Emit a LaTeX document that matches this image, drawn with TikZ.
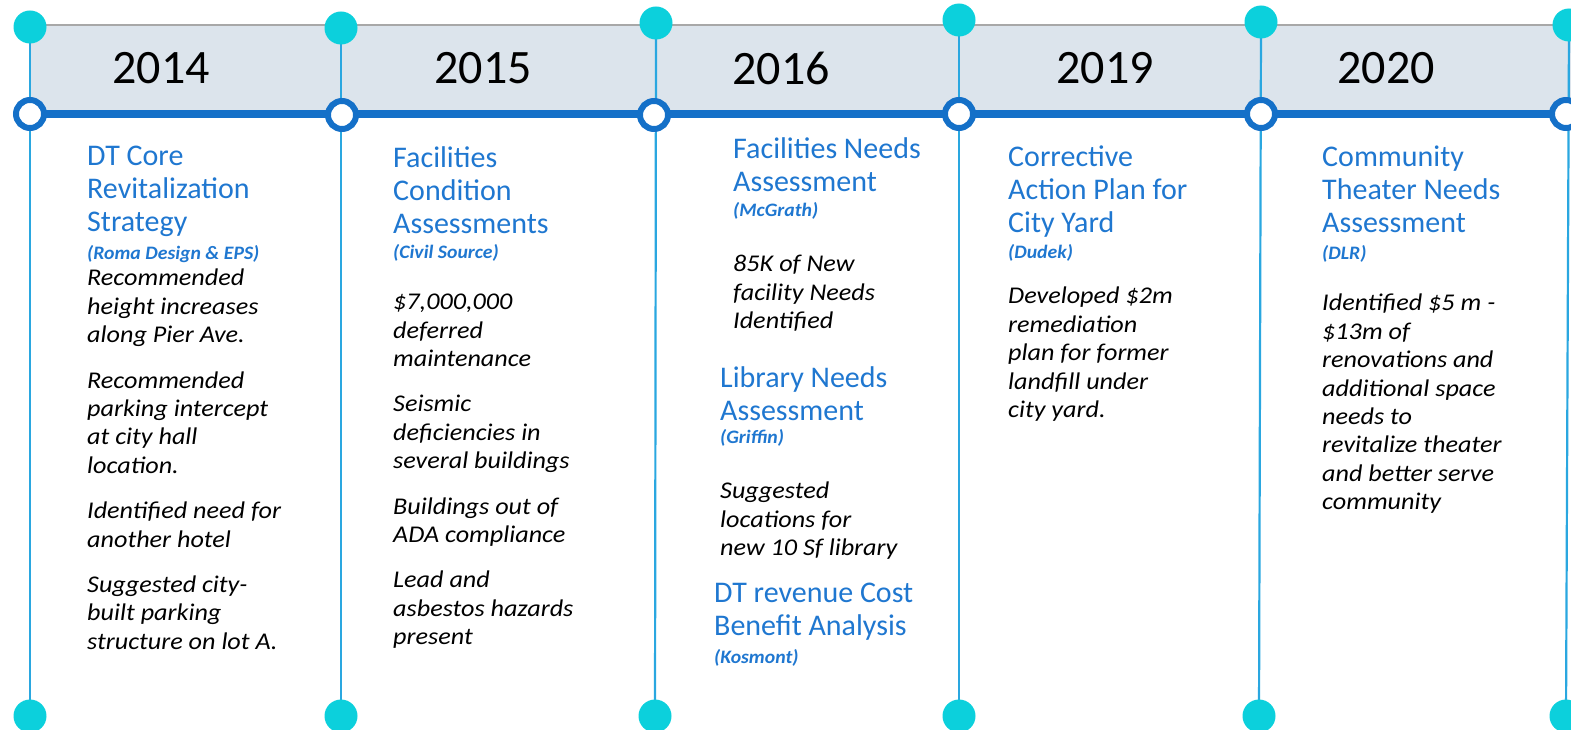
\documentclass[tikz,border=0pt]{standalone}
\usepackage{fontspec}
\setmainfont{Carlito}
\newfontfamily\bodyfont[FakeStretch=1.09]{Carlito}
\newfontfamily\subfont[FakeStretch=1.04]{Carlito}
\definecolor{bandfill}{HTML}{DCE4EC}
\definecolor{bandedge}{HTML}{A8A8A8}
\definecolor{mainblue}{HTML}{1470C8}
\definecolor{vblue}{HTML}{2AA7E0}
\definecolor{dotcyan}{HTML}{0CD0DC}
\definecolor{titleblue}{HTML}{1F77D0}
\tikzset{
  vline/.style={draw=vblue, line width=2.2pt},
  topdot/.style={circle, fill=dotcyan, minimum size=33pt, inner sep=0pt},
  hollow/.style={circle, draw=mainblue, line width=6pt, fill=white, minimum size=28pt, inner sep=0pt},
  yearlbl/.style={font=\fontsize{48}{52}\selectfont, text=black, inner sep=0pt},
  ttl/.style={font=\fontsize{30}{33}\selectfont, text=titleblue, align=left, anchor=north west, inner sep=0pt},
  sub/.style={font={\subfont\bfseries\itshape\fontsize{19}{22}\selectfont}, text=titleblue, align=left, anchor=north west, inner sep=0pt},
  body/.style={font={\bodyfont\itshape\fontsize{24}{28.4}\selectfont}, text=black, align=left, anchor=north west, inner sep=0pt},
}
\begin{document}
\begin{tikzpicture}[x=1pt,y=-1pt]
\useasboundingbox (0,0) rectangle (1571,730);
% band
\fill[bandfill] (30,25) rectangle (1571,113);
\draw[bandedge, line width=1.5pt] (30,25) -- (1571,25);
% dot coordinates
\coordinate (t1) at (30,27);
\coordinate (t2) at (341,28);
\coordinate (t3) at (656,23);
\coordinate (t4) at (959,20);
\coordinate (t5) at (1261,22);
\coordinate (t6) at (1569,25);
\coordinate (b1) at (30,716);
\coordinate (b2) at (341,716);
\coordinate (b3) at (655,716);
\coordinate (b4) at (959,716);
\coordinate (b5) at (1259,716);
\coordinate (b6) at (1566,716);
% vertical lines
\foreach \i in {1,...,6} { \draw[vline] (t\i) -- (b\i); }
% main line
\coordinate (ls) at (30,114);
\coordinate (le) at (1571,114);
\draw[mainblue, line width=8pt] (ls) -- (le);
% hollow circles
\node[hollow] (h1) at (30,114) {};
\node[hollow] (h2) at (342,115) {};
\node[hollow] (h3) at (654,115) {};
\node[hollow] (h4) at (959,114) {};
\node[hollow] (h5) at (1261,114) {};
\node[hollow] (h6) at (1566,114) {};
% dots
\foreach \i in {1,...,6} {
  \node[topdot] (td\i) at (t\i) {};
  \node[topdot] (bd\i) at (b\i) {};
}
% years
\node[yearlbl] (y1) at (161,68) {2014};
\node[yearlbl] (y2) at (483,68) {2015};
\node[yearlbl] (y3) at (781,68) {2016};
\node[yearlbl] (y4) at (1105,68) {2019};
\node[yearlbl] (y5) at (1386,68) {2020};
% column 1
\node[ttl] (c1t) at (87,146) {DT Core\\Revitalization\\Strategy};
\node[sub] (c1s) at (87,245) {(Roma Design \& EPS)};
\node[body] (c1b) at (87,269) {Recommended\\height increases\\along Pier Ave.\\[17pt]Recommended\\parking intercept\\at city hall\\location.\\[17pt]Identified need for\\another hotel\\[17pt]Suggested city-\\built parking\\structure on lot A.};
% column 2
\node[ttl] (c2t) at (393,146) {Facilities\\Condition\\Assessments};
\node[sub] (c2s) at (393,244) {(Civil Source)};
\node[body] (c2b) at (393,294) {\$7,000,000\\deferred\\maintenance\\[17pt]Seismic\\deficiencies in\\several buildings\\[17pt]Buildings out of\\ADA compliance\\[17pt]Lead and\\asbestos hazards\\present};
% column 3
\node[ttl] (c3t) at (733,137) {Facilities Needs\\Assessment};
\node[sub] (c3s) at (733,202) {(McGrath)};
\node[body] (c3b) at (733,255) {85K of New\\facility Needs\\Identified};
\node[ttl] (c3t2) at (720,366) {Library Needs\\Assessment};
\node[sub] (c3s2) at (720,429) {(Griffin)};
\node[body] (c3b2) at (720,482) {Suggested\\locations for\\new 10 Sf library};
\node[ttl] (c3t3) at (714,583) {DT revenue Cost\\Benefit Analysis};
\node[sub] (c3s3) at (714,649) {(Kosmont)};
% column 4
\node[ttl] (c4t) at (1008,146) {Corrective\\Action Plan for\\City Yard};
\node[sub] (c4s) at (1008,244) {(Dudek)};
\node[body] (c4b) at (1008,287) {Developed \$2m\\remediation\\plan for former\\landfill under\\city yard.};
% column 5
\node[ttl] (c5t) at (1322,146) {Community\\Theater Needs\\Assessment};
\node[sub] (c5s) at (1322,245) {(DLR)};
\node[body] (c5b) at (1322,294) {Identified \$5 m -\\\$13m of\\renovations and\\additional space\\needs to\\revitalize theater\\and better serve\\community};
\end{tikzpicture}
\end{document}
